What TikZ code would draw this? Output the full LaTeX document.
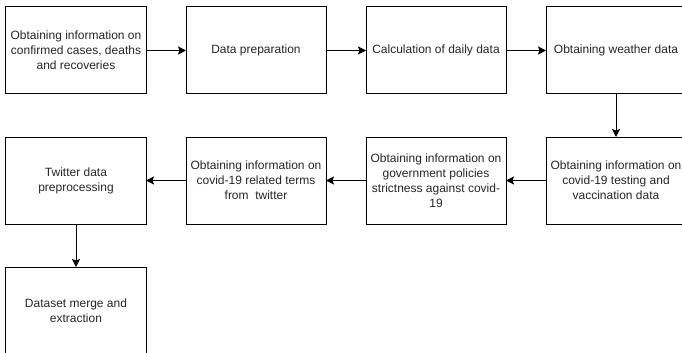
\documentclass[tikz,border=0pt]{standalone}
\usepackage{fontspec}
\setmainfont{Liberation Sans}
\usepackage{tikz}
\usetikzlibrary{arrows.meta, positioning, calc}

\begin{document}
\begin{tikzpicture}[
    node distance=43pt and 40pt,
    blk/.style={
        rectangle, draw, line width=1pt, outer sep=0pt,
        minimum width=140pt,
        minimum height=87pt,
        align=center, text=black!85,
        font=\fontsize{12pt}{15pt}\selectfont
    },
    arr/.style={-{Stealth[length=8pt, width=8pt, inset=1.5pt]}, line width=1pt}
]

\useasboundingbox (-76pt,50.5pt) rectangle ++(682pt,-353pt);

\node[blk] at (0,0)         (info)  {Obtaining information on\\confirmed cases, deaths\\and recoveries};
\node[blk, right=of info]   (prep)  {Data preparation};
\node[blk, right=of prep]   (daily) {Calculation of daily data};
\node[blk, right=of daily]  (wthr)  {Obtaining weather data};

\node[blk, below=of wthr]   (test)  {Obtaining information on\\covid-19 testing and\\vaccination data};
\node[blk, left=of test]    (gov)   {Obtaining information on\\government policies\\strictness against covid-\\19};
\node[blk, left=of gov]     (twt)   {Obtaining information on\\covid-19 related terms\\from\ \ twitter};
\node[blk, left=of twt]     (pre)   {Twitter data\\preprocessing};

\node[blk, below=of pre]    (merge) {Dataset merge and\\extraction};

\draw[arr] (info) -- (prep);
\draw[arr] (prep) -- (daily);
\draw[arr] (daily) -- (wthr);
\draw[arr] (wthr) -- (test);
\draw[arr] (test) -- (gov);
\draw[arr] (gov) -- (twt);
\draw[arr] (twt) -- (pre);
\draw[arr] (pre) -- (merge);

\end{tikzpicture}
\end{document}
